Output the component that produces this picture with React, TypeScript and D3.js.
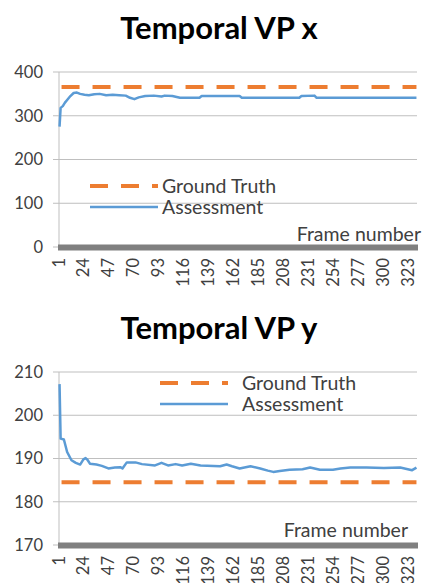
import * as d3 from "d3";

// frames on the category axis
const frameCount = 330;
const frameTicks = [1, 24, 47, 70, 93, 116, 139, 162, 185, 208, 231, 254, 277, 300, 323];

// Temporal VP x
const vpxTicks = [0, 100, 200, 300, 400];
const vpxTruth = 366;
const vpxFrames = [1, 2, 4, 6, 8, 11, 14, 17, 20, 24, 28, 33, 38, 44, 50, 56, 62, 66, 70, 74, 80, 88, 95, 98, 105, 112, 130, 132, 167, 169, 222, 224, 236, 238, 330];
const vpxValues = [275, 318, 322, 330, 336, 345, 352, 353, 350, 348, 347, 349, 350, 347, 348, 347, 346, 341, 338, 342, 345, 346, 344, 346, 345, 341, 341, 345, 345, 341, 341, 345, 346, 341, 341];

// Temporal VP y
const vpyTicks = [170, 180, 190, 200, 210];
const vpyTruth = 184.5;
const vpyFrames = [1, 2, 5, 8, 12, 16, 20, 23, 25, 27, 29, 35, 40, 46, 52, 57, 59, 63, 71, 77, 89, 95, 101, 108, 114, 122, 131, 149, 155, 160, 167, 177, 186, 193, 198, 204, 213, 225, 232, 241, 253, 260, 269, 284, 300, 315, 326, 330];
const vpyValues = [207.2, 194.6, 194.4, 191.5, 189.6, 189, 188.6, 189.8, 190.1, 189.6, 188.8, 188.6, 188.3, 187.7, 187.9, 188, 187.7, 189.1, 189.1, 188.7, 188.4, 189, 188.4, 188.7, 188.4, 188.8, 188.4, 188.2, 188.6, 188.2, 187.7, 188.2, 187.7, 187.2, 186.9, 187.1, 187.4, 187.5, 187.9, 187.4, 187.4, 187.7, 187.9, 187.9, 187.8, 187.9, 187.3, 187.9];

const legendLabels = ["Ground Truth", "Assessment"];

const font = "Lato, 'Open Sans', sans-serif";
const orange = "#ED7D31";
const blue = "#5B9BD5";
const grid = "#BFBFBF";
const textColor = "#404040";

interface PanelProps {
  title: string;
  titleY: number;
  top: number;
  bottom: number;
  ticks: number[];
  truth: number;
  frames: number[];
  values: number[];
  legendX: number;
  legendTextX: number;
  legendY: number;
  frameLabelX: number;
  frameLabelY: number;
}

function Panel(props: PanelProps) {
  const left = 59;
  const right = 417;
  const x = d3.scaleLinear().domain([0.5, frameCount + 0.5]).range([left, right]);
  const y = d3
    .scaleLinear()
    .domain(d3.extent(props.ticks) as [number, number])
    .range([props.bottom, props.top]);
  const line = d3
    .line<number>()
    .x((_, i) => x(props.frames[i]))
    .y((d) => y(d));
  const baseY = y(props.ticks[0]);

  return (
    <g>
      <text
        x={219}
        y={props.titleY}
        textAnchor="middle"
        fontFamily={font}
        fontWeight={700}
        fontSize={31}
        fill="#000"
      >
        {props.title}
      </text>
      {props.ticks.map((tick) => (
        <g key={tick}>
          <line x1={left - 6} x2={right} y1={y(tick)} y2={y(tick)} stroke={grid} strokeWidth={1} />
          <text
            x={43}
            y={y(tick)}
            dy="0.35em"
            textAnchor="end"
            fontFamily={font}
            fontSize={16.5}
            fill={textColor}
          >
            {tick}
          </text>
        </g>
      ))}
      <line x1={left} x2={left} y1={props.top} y2={baseY} stroke={grid} strokeWidth={1} />
      <line
        x1={x(1)}
        x2={x(frameCount)}
        y1={y(props.truth)}
        y2={y(props.truth)}
        stroke={orange}
        strokeWidth={4}
        strokeDasharray="18 13"
        strokeDashoffset={29}
      />
      <path d={line(props.values) ?? ""} fill="none" stroke={blue} strokeWidth={2.5} strokeLinejoin="round" />
      <line x1={left - 1} x2={right + 1} y1={baseY + 0.5} y2={baseY + 0.5} stroke="#808080" strokeWidth={6} />
      {frameTicks.map((f) => (
        <text
          key={f}
          transform={`translate(${x(f) + 5}, ${baseY + 11}) rotate(-90)`}
          textAnchor="end"
          fontFamily={font}
          fontSize={16.5}
          fill={textColor}
        >
          {f}
        </text>
      ))}
      <text
        x={props.frameLabelX}
        y={props.frameLabelY}
        textAnchor="end"
        fontFamily={font}
        fontSize={19.5}
        fill={textColor}
      >
        Frame number
      </text>
      <line
        x1={props.legendX}
        x2={props.legendX + 68}
        y1={props.legendY}
        y2={props.legendY}
        stroke={orange}
        strokeWidth={4}
        strokeDasharray="18 13"
      />
      <line
        x1={props.legendX}
        x2={props.legendX + 68}
        y1={props.legendY + 21}
        y2={props.legendY + 21}
        stroke={blue}
        strokeWidth={2.5}
      />
      {legendLabels.map((label, i) => (
        <text
          key={label}
          x={props.legendTextX}
          y={props.legendY + i * 21}
          dy="0.35em"
          fontFamily={font}
          fontSize={19.5}
          fill={textColor}
        >
          {label}
        </text>
      ))}
    </g>
  );
}

export default function App() {
  return (
    <svg
      width={424}
      height={583}
      viewBox="0 0 424 583"
      style={{ position: "absolute", left: 0, top: 0, background: "#fff" }}
    >
      <rect width={424} height={583} fill="#fff" />
      <Panel
        title="Temporal VP x"
        titleY={39}
        top={72}
        bottom={247}
        ticks={vpxTicks}
        truth={vpxTruth}
        frames={vpxFrames}
        values={vpxValues}
        legendX={90}
        legendTextX={162}
        legendY={186}
        frameLabelX={421}
        frameLabelY={241}
      />
      <Panel
        title="Temporal VP y"
        titleY={339}
        top={372}
        bottom={545}
        ticks={vpyTicks}
        truth={vpyTruth}
        frames={vpyFrames}
        values={vpyValues}
        legendX={160}
        legendTextX={242}
        legendY={383}
        frameLabelX={408}
        frameLabelY={537}
      />
    </svg>
  );
}
